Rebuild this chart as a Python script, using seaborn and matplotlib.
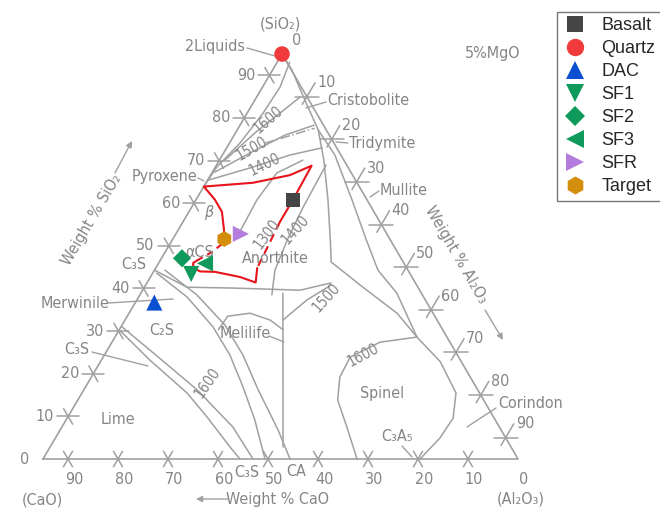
import numpy as np
import pandas as pd
import matplotlib
matplotlib.use("Agg")
import matplotlib.pyplot as plt
from matplotlib.lines import Line2D
import seaborn as sns

# Sample compositions, wt % (CaO-Al2O3-SiO2 section at 5 % MgO)
samples = ["Basalt", "Quartz", "DAC", "SF1", "SF2", "SF3", "SFR", "Target"]
sio2 = [60.8, 95.0, 36.7, 43.4, 47.1, 45.9, 52.8, 51.6]
al2o3 = [19.4, 0.0, 3.8, 7.8, 4.1, 9.3, 13.0, 10.3]
cao = [14.8, 0.0, 54.5, 43.8, 43.8, 39.8, 29.2, 33.1]

tick_values = [0, 10, 20, 30, 40, 50, 60, 70, 80, 90]

# Phase-diagram curves as (SiO2, Al2O3) wt % pairs; CaO is the balance
silica_liquidus = [(93.1, 2.5), (87.3, 3.5), (81.2, 3.2), (74.1, 2.1), (68.5, 0.3), (63.9, 0.0)]
iso_1600 = [(70.1, 1.1), (76.5, 3.9), (81.2, 6.6), (84.9, 8.7)]
iso_1500 = [(67.3, 0.5), (71.8, 5.3), (76.0, 10.2), (78.3, 14.8)]
iso_1400 = [(65.4, 0.1), (68.3, 7.1), (71.3, 13.5), (73.0, 19.1)]
inversion = [(74.1, 7.1), (77.6, 15.3)]
silica_edge = [(95.0, 0.0), (91.2, 3.9), (84.2, 10.0), (77.2, 16.2), (70.1, 20.9),
               (60.8, 26.4), (51.4, 31.6), (46.2, 34.4)]
mullite_edge = [(77.2, 16.2), (71.3, 22.5), (60.8, 31.2), (51.4, 38.8), (44.3, 44.7),
                (38.9, 51.2), (28.6, 60.4)]
corundum_edge = [(46.2, 34.4), (40.3, 43.7), (34.2, 53.6), (28.6, 60.4), (22.8, 68.0),
                 (15.5, 74.8), (9.6, 77.2), (4.9, 76.9), (0.0, 75.4)]
spinel_edge = [(28.6, 60.4), (27.4, 53.6), (23.9, 49.4), (19.2, 49.7), (13.8, 52.0),
               (7.5, 57.0), (0.0, 62.8)]
anorthite_1400 = [(69.0, 21.9), (59.1, 22.3), (51.4, 23.0), (44.3, 24.1), (38.5, 26.4)]
wollastonite_edge = [(52.1, 12.6), (60.8, 12.2), (67.1, 13.0), (70.1, 16.7)]
c2s_upper = [(44.3, 0.0), (40.3, 8.5), (40.1, 17.8), (39.6, 31.5), (41.3, 36.8)]
melilite_stem = [(38.9, 28.4), (2.8, 46.6)]
melilite_1500 = [(32.6, 31.6), (37.3, 34.0), (40.8, 37.1)]
melilite_loop = [(30.3, 19.8), (33.5, 20.1), (34.2, 24.2), (32.6, 29.0), (30.3, 32.8)]
lime_edge_a = [(30.3, 0.0), (23.2, 9.7), (15.5, 21.0), (9.9, 27.8), (2.8, 36.0), (0.0, 39.4)]
lime_edge_b = [(31.0, 0.2), (23.2, 12.1), (16.2, 22.7), (7.5, 34.2), (0.0, 42.0)]
c2s_edge_a = [(43.6, 0.8), (38.0, 9.7), (31.0, 18.4), (24.4, 25.1), (16.9, 31.5),
              (9.1, 37.8), (0.0, 44.4)]
c2s_edge_b = [(44.3, 2.1), (38.5, 11.4), (31.4, 20.6), (24.4, 27.7), (16.2, 34.9),
              (6.8, 43.6), (0.0, 49.4)]

# Highlighted liquid path
red_upper = [(53.0, 9.6), (58.0, 6.6), (60.8, 3.8), (62.7, 1.5), (63.9, 0.0), (64.8, 9.4),
             (66.6, 15.9), (68.8, 19.1), (60.8, 19.4), (55.6, 19.4)]
red_gap_a = [(55.6, 19.4), (44.8, 20.3)]
red_lower = [(44.8, 20.3), (41.4, 21.7), (42.7, 17.9), (43.9, 12.3), (44.0, 9.3),
             (44.8, 7.5), (46.0, 6.9), (46.6, 7.4)]
red_gap_b = [(46.6, 7.4), (48.6, 9.4), (50.4, 10.4)]

# ---------------------------------------------------------------------------
TOTAL = 95.0                      # CaO + Al2O3 + SiO2 with 5 % MgO
APEX = np.array([0.5032, 0.8526])  # SiO2 corner; CaO at (0,0), Al2O3 at (1,0)
GRAY = "#a0a0a0"
TEXT = "#858585"
RED = "#e8141c"

colors = {"Basalt": "#454545", "Quartz": "#ef3b3b", "DAC": "#0b50d0", "SF1": "#0f9a5c",
          "SF2": "#0f9a5c", "SF3": "#0f9a5c", "SFR": "#b47cdc", "Target": "#d38e0c"}
markers = {"Basalt": "s", "Quartz": "o", "DAC": "^", "SF1": "v", "SF2": "D",
           "SF3": "<", "SFR": ">", "Target": "h"}
point_area = {"Basalt": 95, "Quartz": 125, "DAC": 135, "SF1": 135, "SF2": 85,
              "SF3": 135, "SFR": 135, "Target": 130}
legend_size = {"Basalt": 11.5, "Quartz": 12.5, "DAC": 12.5, "SF1": 12.5, "SF2": 10.0,
               "SF3": 12.5, "SFR": 12.5, "Target": 13.0}


def to_xy(si, al):
    si = np.asarray(si, float) / TOTAL
    al = np.asarray(al, float) / TOTAL
    return al + si * APEX[0], si * APEX[1]


def curve_xy(pairs):
    arr = np.asarray(pairs, float)
    return to_xy(arr[:, 0], arr[:, 1])


PX = 475.0


def at(x, y):
    """Layout position given in canvas pixels (origin top-left)."""
    return (x - 43) / PX, (459 - y) / PX


sns.set_theme(style="white")
plt.rcParams["font.family"] = ["DejaVu Sans"]

fig = plt.figure(figsize=(6.6, 5.11), dpi=100)
ax = fig.add_axes([0, 0, 1, 1])
ax.set_xlim(-43 / PX, 617 / PX)
ax.set_ylim(-52 / PX, 459 / PX)
ax.set_axis_off()

# Triangle frame
fx, fy = curve_xy([(0, 0), (0, TOTAL), (TOTAL, 0), (0, 0)])
ax.plot(fx, fy, color=GRAY, lw=1.2, zorder=1)

# Phase boundaries
for c in [silica_liquidus, iso_1600, iso_1500, iso_1400, silica_edge, mullite_edge,
          corundum_edge, spinel_edge, anorthite_1400, wollastonite_edge, c2s_upper,
          melilite_stem, melilite_1500, melilite_loop, lime_edge_a, lime_edge_b,
          c2s_edge_a, c2s_edge_b]:
    cx, cy = curve_xy(c)
    sns.lineplot(x=cx, y=cy, sort=False, estimator=None, color=GRAY, lw=1.1, ax=ax, zorder=1)
ix, iy = curve_xy(inversion)
ax.plot(ix, iy, color=GRAY, lw=1.1, ls="-.", zorder=1)

# Ticks
uL = APEX / np.hypot(*APEX)
uR = np.array([1 - APEX[0], -APEX[1]]) / np.hypot(1 - APEX[0], -APEX[1])
tk = dict(color=GRAY, lw=1.1, zorder=1)
fs_num = 11.5
txt = dict(color=TEXT, fontsize=fs_num, fontstretch="condensed")
d = 1 / PX
for v in tick_values:
    # SiO2 along the left edge
    p = np.array(to_xy(v, 0)).ravel()
    if v > 0:
        ax.plot([p[0] - 11 * d, p[0] + 11 * d], [p[1], p[1]], **tk)
        ax.plot([p[0] - 9 * d * uR[0], p[0] + 9 * d * uR[0]],
                [p[1] - 9 * d * uR[1], p[1] + 9 * d * uR[1]], **tk)
    ax.text(p[0] - 14 * d, p[1], str(v), ha="right", va="center", **txt)
    # CaO along the base
    p = np.array(to_xy(0, TOTAL - v)).ravel()
    if v > 0:
        for u in (uL, uR):
            ax.plot([p[0] - 9 * d * u[0], p[0] + 9 * d * u[0]],
                    [p[1] - 9 * d * u[1], p[1] + 9 * d * u[1]], **tk)
    ax.text(p[0] + 6 * d, p[1] - 20 * d, str(v), ha="center", va="center", **txt)
    # Al2O3 along the right edge
    p = np.array(to_xy(TOTAL - v, v)).ravel()
    if v > 0:
        ax.plot([p[0] - 12 * d, p[0] + 12 * d], [p[1], p[1]], **tk)
        ax.plot([p[0] - 9 * d * uL[0], p[0] + 16 * d * uL[0]],
                [p[1] - 9 * d * uL[1], p[1] + 16 * d * uL[1]], **tk)
    ax.text(p[0] + 16 * d * uL[0] + 2 * d, p[1] + 16 * d * uL[1], str(v),
            ha="left", va="center", **txt)

# Highlighted path
for seg, ls in [(red_upper, "-"), (red_gap_a, (0, (4, 2.5))), (red_lower, "-"),
                (red_gap_b, (0, (3, 2.5)))]:
    rx, ry = curve_xy(seg)
    ax.plot(rx, ry, color=RED, lw=1.5, ls=ls, zorder=3, solid_capstyle="round")

# Samples
df = pd.DataFrame({"sample": samples, "SiO2": sio2, "Al2O3": al2o3, "CaO": cao})
df["x"], df["y"] = to_xy(df["SiO2"], df["Al2O3"])
sns.scatterplot(data=df, x="x", y="y", hue="sample", style="sample", size="sample",
                palette=colors, markers=markers, sizes=point_area, linewidth=0,
                legend=False, ax=ax, zorder=5)


# Labels
def lab(s, x, y, size=fs_num, **kw):
    kw.setdefault("ha", "center")
    kw.setdefault("va", "center")
    ax.text(*at(x, y), s, color=TEXT, fontsize=size, fontstretch="condensed", **kw)


def leader(x0, y0, x1, y1):
    ax.annotate("", xy=at(x1, y1), xytext=at(x0, y0),
                arrowprops=dict(arrowstyle="-", color=GRAY, lw=1.0, shrinkA=0, shrinkB=0))


def arrow(x0, y0, x1, y1):
    ax.annotate("", xy=at(x1, y1), xytext=at(x0, y0),
                arrowprops=dict(arrowstyle="-|>", color=GRAY, lw=1.0, mutation_scale=9,
                                shrinkA=0, shrinkB=0))


lab("(SiO₂)", 280, 24)
lab("2Liquids", 245, 46, ha="right")
leader(247, 48, 282, 58)
lab("5%MgO", 493, 53)
lab("Cristobolite", 327, 100, ha="left")
leader(306, 108, 326, 102)
lab("Tridymite", 349, 143, ha="left")
leader(336, 142, 348, 143)
lab("Mullite", 380, 190, ha="left")
leader(370, 197, 379, 191)
lab("Pyroxene", 197, 176, ha="right")
leader(198, 178, 204, 181)
lab("β", 209, 212, style="italic")
lab("αCS", 200, 252)
lab("C₃S", 134, 264)
lab("Anorthite", 275, 258)
lab("Merwinile", 75, 303)
leader(108, 303, 173, 299)
lab("C₂S", 162, 330)
lab("C₃S", 77, 349)
leader(92, 352, 148, 366)
lab("Lime", 118, 419)
lab("Melilife", 245, 333)
leader(269, 336, 284, 342)
lab("C₃S", 247, 472)
lab("CA", 296, 471)
lab("Spinel", 382, 393)
lab("C₃A₅", 397, 436)
leader(402, 446, 412, 457)
lab("Corindon", 498, 403, ha="left")
leader(467, 427, 496, 408)
lab("1600", 268, 120, size=10.5, rotation=41)
lab("1500", 252, 149, size=10.5, rotation=30)
lab("1400", 265, 165, size=10.5, rotation=26)
lab("1300", 267, 234, size=10.5, rotation=53)
lab("1400", 295, 230, size=10.5, rotation=48)
lab("1500", 326, 298, size=10.5, rotation=48)
lab("1600", 207, 383, size=10.5, rotation=55)
lab("1600", 363, 355, size=10.5, rotation=28)
lab("(CaO)", 42, 500)
lab("(Al₂O₃)", 521, 499)

# Axis titles
lab("Weight % SiO₂", 92, 220, rotation=59.5)
arrow(115, 173, 132, 141)
lab("Weight % Al₂O₃", 456, 255, rotation=-59.8)
arrow(485, 310, 503, 340)
lab("Weight % CaO", 277, 499)
arrow(228, 499, 196, 499)

# Legend
handles = [Line2D([], [], ls="none", marker=markers[s], color=colors[s],
                  markersize=legend_size[s], markeredgewidth=0) for s in samples]
leg = fig.legend(handles, samples, loc="upper left", bbox_to_anchor=(557 / 660, 1 - 12 / 511),
                 frameon=True, fancybox=False, borderaxespad=0, borderpad=0.3,
                 handlelength=1.4, handletextpad=0.75, labelspacing=0.33,
                 prop={"family": "Liberation Sans", "size": 13})
leg.get_frame().set_edgecolor("#555555")
leg.get_frame().set_linewidth(1.0)

fig.savefig("out.png", dpi=100)
